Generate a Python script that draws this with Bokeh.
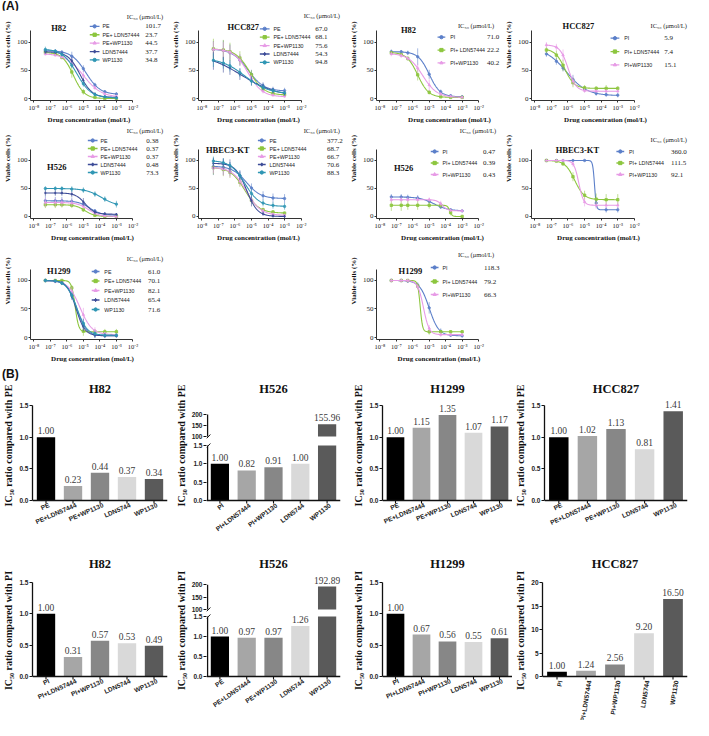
import math
import numpy as np
from bokeh.plotting import figure
from bokeh.models import Range1d, FixedTicker, FactorRange, Spacer, Div
from bokeh.layouts import row, column
from bokeh.core.properties import value
from bokeh.embed import file_html
from bokeh.resources import INLINE

SERIF = "Liberation Serif"
SANS = "Liberation Sans"
EM = "\u2003"

# ---------------- Panel A data ----------------
dose_log = [-7.3, -6.7, -6.3, -5.7, -5.0, -4.3, -3.7, -3.0]   # log10(mol/L)
x_tick_exps = [-8, -7, -6, -5, -4, -3, -2]
pe_labels = ["PE", "PE+ LDN57444", "PE+WP1130", "LDN57444", "WP1130"]
pi_labels = ["PI", "PI+ LDN57444", "PI+WP1130"]
series_colors = ["#5b7fc9", "#8dc63f", "#e79be6", "#3d4c98", "#2f96b4"]
series_markers = ["circle", "square", "triangle", "diamond", "circle"]

# fitted curves: (top, bottom, logIC50, hill)
h82_pe_ic50 = ["101.7", "23.7", "44.5", "37.7", "34.8"]
h82_pe_mean = [[85, 84, 82, 75, 53, 24, 12, 8], [82, 79, 73, 47, 12, 2, 0, 0],
               [79, 77, 74, 63, 41, 19, 8, 4], [83, 82, 79, 67, 32, 8, 3, 2],
               [87, 84, 78, 59, 26, 7, 3, 1]]
h82_pe_err = [[3, 3, 4, 8, 6, 4, 3, 3], [2, 3, 3, 10, 5, 2, 1, 1], [3, 3, 5, 8, 8, 4, 2, 2],
              [4, 3, 3, 6, 5, 3, 2, 2], [5, 3, 3, 5, 5, 3, 2, 2]]
h82_pe_fit = [(85, 7, -4.85, 1.0), (82, 0, -5.6, 1.3), (80, 2, -5.0, 0.8),
              (83, 2, -5.2, 1.2), (88, 1, -5.4, 1.0)]

hcc827_pe_ic50 = ["67.0", "68.1", "75.6", "54.3", "94.8"]
hcc827_pe_mean = [[87, 85, 81, 68, 43, 23, 16, 14], [88, 86, 83, 72, 42, 17, 9, 7],
                  [87, 85, 82, 68, 36, 13, 6, 4], [67, 60, 54, 43, 31, 21, 14, 9],
                  [68, 63, 58, 46, 31, 20, 14, 10]]
hcc827_pe_err = [[15, 18, 15, 10, 8, 6, 5, 5], [18, 18, 16, 12, 8, 5, 4, 4],
                 [14, 15, 12, 10, 6, 4, 3, 3], [16, 14, 12, 10, 8, 6, 5, 4],
                 [12, 10, 10, 8, 8, 5, 4, 4]]
hcc827_pe_fit = [(88, 13, -5.2, 0.9), (88, 6, -5.1, 1.0), (88, 3, -5.2, 1.0),
                 (80, 3, -5.6, 0.4), (72, 8, -5.4, 0.6)]

h82_pi_ic50 = ["71.0", "22.2", "40.2"]
h82_pi_mean = [[83, 83, 81, 74, 43, 12, 5, 3], [81, 78, 71, 42, 11, 3, 2, 2],
               [79, 76, 71, 54, 24, 8, 4, 2]]
h82_pi_err = [[4, 3, 4, 15, 8, 4, 3, 3], [3, 3, 4, 10, 4, 2, 1, 1], [4, 4, 3, 8, 10, 3, 2, 2]]
h82_pi_fit = [(83, 3, -5.0, 1.3), (82, 2, -5.7, 1.3), (80, 2, -5.4, 1.0)]

hcc827_pi_ic50 = ["5.9", "7.4", "15.1"]
hcc827_pi_mean = [[79, 66, 54, 34, 17, 9, 7, 6], [86, 77, 59, 28, 19, 18, 18, 18],
                  [95, 91, 77, 31, 14, 13, 13, 13]]
hcc827_pi_err = [[5, 6, 6, 8, 5, 4, 4, 4], [6, 8, 10, 8, 5, 4, 6, 4], [5, 6, 10, 8, 4, 3, 3, 3]]
hcc827_pi_fit = [(90, 5, -6.1, 0.7), (88, 18, -6.2, 1.5), (95, 13, -6.0, 1.8)]

h526_pe_ic50 = ["0.38", "0.37", "0.37", "0.48", "73.3"]
h526_pe_mean = [[28, 28, 28, 27, 22, 10, 4, 2], [21, 21, 21, 20, 12, 2, 0, 0],
                [25, 25, 25, 24, 18, 6, 1, 0], [42, 42, 42, 40, 26, 8, 5, 4],
                [50, 50, 50, 49, 47, 40, 31, 22]]
h526_pe_err = [[8, 7, 7, 6, 5, 3, 2, 2], [6, 6, 5, 5, 4, 2, 1, 1], [8, 7, 7, 6, 5, 3, 2, 2],
               [6, 5, 5, 6, 7, 4, 2, 2], [4, 4, 4, 5, 5, 5, 5, 6]]
h526_pe_fit = [(28, 2, -4.6, 1.2), (21, 0, -4.9, 1.5), (25, 0, -4.7, 1.3),
               (42, 4, -4.9, 1.5), (50, 18, -3.9, 0.9)]

hbec_pe_ic50 = ["377.2", "68.7", "66.7", "70.6", "88.3"]
hbec_pe_mean = [[89, 88, 85, 73, 51, 37, 33, 32], [87, 84, 79, 61, 29, 12, 8, 6],
                [87, 85, 80, 63, 30, 10, 4, 2], [95, 94, 90, 73, 28, 5, 1, 0],
                [99, 96, 91, 73, 41, 24, 20, 18]]
hbec_pe_err = [[15, 14, 12, 10, 8, 8, 8, 8], [12, 12, 10, 8, 6, 4, 3, 3],
               [10, 12, 10, 8, 6, 4, 3, 3], [10, 10, 12, 8, 10, 4, 3, 3],
               [8, 8, 6, 6, 8, 6, 6, 6]]
hbec_pe_fit = [(90, 32, -5.3, 1.0), (88, 6, -5.4, 1.0), (88, 2, -5.3, 1.0),
               (95, 0, -5.3, 1.3), (100, 18, -5.4, 1.0)]

h526_pi_ic50 = ["0.47", "0.39", "0.43"]
h526_pi_mean = [[35, 35, 34, 33, 27, 17, 12, 10], [20, 20, 20, 20, 20, 20, 7, 0],
                [30, 30, 30, 30, 30, 23, 11, 10]]
h526_pi_err = [[5, 5, 5, 5, 4, 3, 2, 2], [10, 10, 8, 8, 6, 5, 5, 3], [5, 5, 5, 5, 4, 5, 3, 2]]
h526_pi_fit = [(35, 10, -4.7, 1.0), (20, 0, -3.75, 6.0), (30, 10, -4.2, 2.5)]

hbec_pi_ic50 = ["360.0", "111.5", "92.1"]
hbec_pi_mean = [[100, 100, 100, 100, 100, 24, 12, 12], [100, 99, 94, 71, 38, 31, 30, 30],
                [100, 100, 100, 94, 26, 20, 20, 20]]
hbec_pi_err = [[1, 1, 1, 1, 1, 8, 5, 5], [1, 2, 3, 8, 8, 10, 10, 10], [1, 1, 2, 5, 8, 6, 6, 6]]
hbec_pi_fit = [(100, 12, -4.4, 8.0), (100, 30, -5.6, 1.5), (100, 20, -5.35, 3.0)]

h1299_pe_ic50 = ["61.0", "70.1", "82.1", "65.4", "71.6"]
h1299_pe_mean = [[100, 99, 96, 75, 22, 5, 3, 3], [100, 100, 100, 87, 11, 10, 10, 10],
                 [100, 98, 96, 81, 40, 12, 7, 5], [100, 99, 96, 72, 19, 4, 3, 3],
                 [100, 99, 95, 74, 25, 7, 4, 4]]
h1299_pe_err = [[3, 3, 3, 6, 10, 5, 3, 3], [2, 2, 2, 5, 8, 5, 5, 5], [3, 3, 3, 8, 12, 6, 3, 3],
                [2, 2, 3, 6, 8, 5, 4, 3], [3, 3, 3, 6, 8, 5, 3, 3]]
h1299_pe_fit = [(100, 3, -5.4, 1.5), (100, 10, -5.5, 4.0), (100, 5, -5.2, 1.2),
                (100, 3, -5.45, 1.6), (100, 4, -5.4, 1.4)]

h1299_pi_ic50 = ["118.3", "79.2", "66.3"]
h1299_pi_mean = [[100, 100, 99, 92, 52, 11, 4, 3], [100, 100, 100, 90, 10, 10, 10, 10],
                 [100, 100, 100, 89, 16, 5, 5, 5]]
h1299_pi_err = [[3, 3, 3, 5, 10, 5, 3, 3], [2, 2, 2, 5, 5, 3, 3, 3], [3, 3, 3, 5, 6, 4, 3, 3]]
h1299_pi_fit = [(100, 3, -5.0, 1.5), (100, 10, -5.55, 6.0), (100, 5, -5.35, 2.5)]

# ---------------- Panel B data ----------------
b_cats_pe = ["PE", "PE+LDN57444", "PE+WP1130", "LDN5744", "WP1130"]
b_cats_pi = ["PI", "PI+LDN57444", "PI+WP1130", "LDN5744", "WP1130"]
b_h82_pe = [1.00, 0.23, 0.44, 0.37, 0.34]
b_h526_pe = [1.00, 0.82, 0.91, 1.00, 155.96]
b_h1299_pe = [1.00, 1.15, 1.35, 1.07, 1.17]
b_hcc827_pe = [1.00, 1.02, 1.13, 0.81, 1.41]
b_h82_pi = [1.00, 0.31, 0.57, 0.53, 0.49]
b_h526_pi = [1.00, 0.97, 0.97, 1.26, 192.89]
b_h1299_pi = [1.00, 0.67, 0.56, 0.55, 0.61]
b_hcc827_pi = [1.00, 1.24, 2.56, 9.20, 16.50]
bar_colors = ["#000000", "#a6a6a6", "#878787", "#d9d9d9", "#5a5a5a"]


def sup(n):
    m = {"-": "\u207b", "0": "\u2070", "1": "\u00b9", "2": "\u00b2", "3": "\u00b3",
         "4": "\u2074", "5": "\u2075", "6": "\u2076", "7": "\u2077", "8": "\u2078", "9": "\u2079"}
    return "".join(m[c] for c in str(n))


def shifted(text, n):
    # positive n: leading em-spaces, negative: trailing (to move the centred label)
    return EM * n + text if n >= 0 else text + EM * (-n)


def make_dose(width, height, frame_h, y0, y1, title, labels, ic50, means, errs, fits, lay,
              ysh=3, xsh=0):
    lb = 26
    fw = width - lb
    lx0 = -8.2
    ppd = 17.0
    lx1 = lx0 + fw / ppd
    p = figure(width=width, height=height, x_axis_type="log",
               x_range=Range1d(10 ** lx0, 10 ** lx1), y_range=Range1d(y0, y1),
               title=None, output_backend="svg", toolbar_location=None,
               min_border_left=lb, min_border_right=0, min_border_top=0,
               min_border_bottom=height - frame_h)
    p.outline_line_color = None
    p.xgrid.visible = False
    p.ygrid.visible = False
    ppu = frame_h / (y1 - y0)

    def X(px):
        return 10 ** (lx0 + px / ppd)

    def Y(px):
        return y1 - px / ppu

    xs_curve = np.logspace(dose_log[0], dose_log[-1], 160)
    lxs = np.log10(xs_curve)
    dose_x = [10.0 ** d for d in dose_log]
    for i, (m, e, f) in enumerate(zip(means, errs, fits)):
        top, bot, lec, hill = f
        yc = bot + (top - bot) / (1 + 10 ** ((lxs - lec) * hill))
        c = series_colors[i]
        p.line(xs_curve, yc, line_color=c, line_width=1.1)
        p.segment(dose_x, [a - b for a, b in zip(m, e)], dose_x, [a + b for a, b in zip(m, e)],
                  line_color=c, line_width=0.7, line_alpha=0.8)
        p.scatter(dose_x, m, marker=series_markers[i], size=2.4, fill_color=c, line_color=c,
                  fill_alpha=0.8, line_alpha=0.8)

    n = len(labels)
    rows = lay["rows"]
    la, lbx = lay["line"]
    for i in range(n):
        yy = Y(rows[i])
        p.segment([X(la)], [yy], [X(lbx)], [yy], line_color=series_colors[i], line_width=1.3)
        p.scatter([X((la + lbx) / 2)], [yy], marker=series_markers[i], size=3.3,
                  fill_color=series_colors[i], line_color=series_colors[i])
    p.text(x=[X(lay["label"])] * n, y=[Y(r) for r in rows], text=labels,
           text_font=value(SANS), text_font_size="5.3px", text_baseline="middle",
           text_align="left", text_color="#222222")
    p.text(x=[X(lay["val"])] * n, y=[Y(r) for r in rows], text=ic50,
           text_font=value(SERIF), text_font_size="7px", text_baseline="middle",
           text_align="left", text_color="#222222")
    hx, hy = lay["header"]
    p.text(x=[X(hx)], y=[Y(hy)], text=["IC\u2085\u2080 (\u03bcmol/L)"],
           text_font=value(SERIF), text_font_size="6.5px", text_baseline="middle",
           text_align="left", text_color="#222222")
    tx, ty = lay["title"]
    p.text(x=[X(tx)], y=[Y(ty)], text=[title], text_font=value(SERIF), text_font_style="bold",
           text_font_size="8.5px", text_baseline="middle", text_align="center", text_color="#111111")

    xa = p.xaxis[0]
    xa.ticker = FixedTicker(ticks=[10.0 ** e for e in x_tick_exps])
    xa.major_label_overrides = {10.0 ** e: "10" + sup(e) for e in x_tick_exps}
    xa.bounds = (10 ** lx0, 1e-2)
    xa.axis_label = shifted("Drug concentration (mol/L)", xsh)
    ya = p.yaxis[0]
    ya.ticker = FixedTicker(ticks=[0, 50, 100])
    ya.bounds = (y0, 120)
    ya.axis_label = shifted("Viable cells (%)", ysh)
    for ax in (xa, ya):
        ax.axis_line_color = "#333333"
        ax.axis_line_width = 1
        ax.major_tick_line_color = "#333333"
        ax.major_tick_out = 2
        ax.major_tick_in = 0
        ax.minor_tick_line_color = None
        ax.major_label_text_font = SERIF
        ax.major_label_text_font_size = "7px"
        ax.major_label_text_color = "#222222"
        ax.major_label_standoff = 1
        ax.axis_label_text_font = SERIF
        ax.axis_label_text_font_style = "bold"
        ax.axis_label_text_font_size = "7px"
        ax.axis_label_text_color = "#111111"
        ax.axis_label_standoff = 2
    xa.major_label_text_font_size = "6.5px"
    return p


def brk_map(lower_top, gap, up_lo, up_scale):
    def T(v):
        return v if v <= lower_top else round(lower_top + gap + (v - up_lo) * up_scale, 4)
    return T


def make_bar(width, frame_w, height, zero_px, cats, vals, title, ylabel, ppu, ticks, tick_labels,
             title_px, brk=None, ysh=0):
    lb = 30
    y_end = zero_px / ppu
    y_start = -(height - zero_px) / ppu
    p = figure(width=width, height=height,
               x_range=FactorRange(*cats, range_padding=0, factor_padding=0),
               y_range=Range1d(y_start, y_end), title=None, output_backend="svg",
               toolbar_location=None, min_border_left=lb, min_border_right=width - lb - frame_w,
               min_border_top=0, min_border_bottom=0)
    p.outline_line_color = None
    p.xgrid.visible = False
    p.ygrid.visible = False
    p.xaxis.visible = False
    n = len(cats)
    ppx = frame_w / n
    if brk is None:
        tops = list(vals)
        label_y = list(vals)
    else:
        lower_top, T, up_lo, up_hi = brk
        tops = [min(v, lower_top) for v in vals]
        ux = [c for c, v in zip(cats, vals) if v > lower_top]
        uv = [v for v in vals if v > lower_top]
        uc = [col for col, v in zip(bar_colors, vals) if v > lower_top]
        p.vbar(x=ux, bottom=[T(up_lo)] * len(ux), top=[T(v) for v in uv], width=0.68,
               fill_color=uc, line_color=None)
        label_y = [T(v) for v in vals]
    p.vbar(x=cats, top=tops, width=0.68, fill_color=bar_colors, line_color=None)
    p.text(x=cats, y=[v + 3 / ppu for v in label_y], text=["%.2f" % v for v in vals],
           text_font=value(SERIF), text_font_size="9.5px", text_color="#3a3a3a",
           text_align="center", text_baseline="bottom")
    p.text(x=[n / 2], y=[y_end - title_px / ppu], text=[title], text_font=value(SERIF),
           text_font_style="bold", text_font_size="12.5px", text_align="center",
           text_baseline="middle", text_color="#111111")
    # category axis drawn at zero
    centers = [i + 0.5 for i in range(n)]
    p.segment([0], [0], [n], [0], line_color="#111111", line_width=1.3)
    p.segment(centers, [0] * n, centers, [-3 / ppu] * n, line_color="#111111", line_width=1.1)
    ang = math.atan(ppx / ppu)   # 45 degrees on screen
    p.text(x=[c + 3 / ppx for c in centers], y=[-4 / ppu] * n, text=cats, angle=ang,
           text_align="right", text_baseline="middle", text_font=value(SANS),
           text_font_style="bold", text_font_size="6.5px", text_color="#222222")

    ya = p.yaxis[0]
    ya.ticker = FixedTicker(ticks=ticks)
    ya.major_label_overrides = dict(zip(ticks, tick_labels))
    ya.axis_label = shifted(ylabel, ysh)
    ya.axis_line_width = 1.3
    ya.axis_line_color = "#111111"
    ya.major_tick_line_color = "#111111"
    ya.major_tick_line_width = 1.1
    ya.major_tick_out = 3
    ya.major_tick_in = 0
    ya.minor_tick_line_color = None
    ya.major_label_text_font = SANS
    ya.major_label_text_font_style = "bold"
    ya.major_label_text_font_size = "6.5px"
    ya.major_label_text_color = "#222222"
    ya.major_label_standoff = 1
    ya.axis_label_text_font = SERIF
    ya.axis_label_text_font_style = "bold"
    ya.axis_label_text_font_size = "10px"
    ya.axis_label_text_color = "#111111"
    ya.axis_label_standoff = 2
    if brk is None:
        ya.bounds = (0, ticks[-1])
    else:
        ya.axis_line_color = None
        lower_top, T, up_lo, up_hi = brk
        ax_x = 0.04
        p.segment([ax_x, ax_x], [0, T(up_lo)], [ax_x, ax_x], [lower_top, T(up_hi)],
                  line_color="#111111", line_width=1.3)
        # break marks
        dx = 4 / ppx
        dy = 2 / ppu
        p.segment([0.0, 0.0], [lower_top - dy, T(up_lo) - dy], [dx, dx], [lower_top + dy, T(up_lo) + dy],
                  line_color="#111111", line_width=1.0)
    return p


A_W = [168, 178, 155, 192]
R1 = dict(height=116, frame_h=91, y0=-3.5, y1=156.1)
R2 = dict(height=124, frame_h=92, y0=-3.6, y1=160.7)
R3 = dict(height=118, frame_h=89, y0=-3.5, y1=152.6)

f1 = make_dose(A_W[0], title="H82", labels=pe_labels, ic50=h82_pe_ic50, means=h82_pe_mean,
               errs=h82_pe_err, fits=h82_pe_fit, ysh=3, xsh=-3,
               lay=dict(title=(29, 18), header=(99, 6), rows=[16, 24.5, 33, 41.5, 50],
                        line=(61, 71), label=74, val=118), **R1)
f2 = make_dose(A_W[1], title="HCC827", labels=pe_labels, ic50=hcc827_pe_ic50, means=hcc827_pe_mean,
               errs=hcc827_pe_err, fits=hcc827_pe_fit, ysh=3, xsh=-4,
               lay=dict(title=(46, 17), header=(108, 5), rows=[18.5, 27, 35.5, 44, 52.5],
                        line=(63, 73), label=77, val=120), **R1)
f3 = make_dose(A_W[2], title="H82", labels=pi_labels, ic50=h82_pi_ic50, means=h82_pi_mean,
               errs=h82_pi_err, fits=h82_pi_fit, ysh=3, xsh=3,
               lay=dict(title=(33, 20), header=(84, 15), rows=[27, 40, 53],
                        line=(63, 71), label=76, val=114), **R1)
f4 = make_dose(A_W[3], title="HCC827", labels=pi_labels, ic50=hcc827_pi_ic50, means=hcc827_pi_mean,
               errs=hcc827_pi_err, fits=hcc827_pi_fit, ysh=3, xsh=-2,
               lay=dict(title=(48, 16), header=(122, 15), rows=[28, 41.5, 55],
                        line=(81, 90), label=95, val=136), **R1)
f5 = make_dose(A_W[0], title="H526", labels=pe_labels, ic50=h526_pe_ic50, means=h526_pe_mean,
               errs=h526_pe_err, fits=h526_pe_fit, ysh=4, xsh=-2,
               lay=dict(title=(27, 40), header=(99, 4), rows=[14, 22, 30, 38, 46],
                        line=(59, 69), label=72, val=119), **R2)
f6 = make_dose(A_W[1], title="HBEC3-KT", labels=pe_labels, ic50=hbec_pe_ic50, means=hbec_pe_mean,
               errs=hbec_pe_err, fits=hbec_pe_fit, ysh=4, xsh=-4,
               lay=dict(title=(30, 23), header=(108, 4), rows=[14, 22, 30, 38, 46],
                        line=(61, 69), label=73, val=132), **R2)
f7 = make_dose(A_W[2], title="H526", labels=pi_labels, ic50=h526_pi_ic50, means=h526_pi_mean,
               errs=h526_pi_err, fits=h526_pi_fit, ysh=4, xsh=1,
               lay=dict(title=(28, 41), header=(86, 4), rows=[25, 36.5, 48],
                        line=(56, 64), label=68, val=110), **R2)
f8 = make_dose(A_W[3], title="HBEC3-KT", labels=pi_labels, ic50=hbec_pi_ic50, means=hbec_pi_mean,
               errs=hbec_pi_err, fits=hbec_pi_fit, ysh=4, xsh=-4,
               lay=dict(title=(47, 23), header=(122, 13), rows=[25, 36.5, 48],
                        line=(87, 95), label=100, val=143), **R2)
f9 = make_dose(A_W[0], title="H1299", labels=pe_labels, ic50=h1299_pe_ic50, means=h1299_pe_mean,
               errs=h1299_pe_err, fits=h1299_pe_fit, ysh=4, xsh=-2,
               lay=dict(title=(29, 20), header=(99, 8), rows=[21, 30.5, 40, 49.5, 59],
                        line=(63, 71), label=76, val=121), **R3)
f10 = make_dose(A_W[2], title="H1299", labels=pi_labels, ic50=h1299_pi_ic50, means=h1299_pi_mean,
                errs=h1299_pi_err, fits=h1299_pi_fit, ysh=4, xsh=0,
                lay=dict(title=(35, 20), header=(84, 4), rows=[17, 31, 44],
                         line=(56, 64), label=68, val=111), **R3)

B_W = [172, 178, 162, 181]
B_FW = [137, 138, 132, 145]
lin_ticks = [0, 0.5, 1, 1.5]
lin_labels = ["0.0", "0.5", "1.0", "1.5"]
YL_PE = "IC\u2085\u2080 ratio compared with PE"
YL_PI = "IC\u2085\u2080 ratio compared with PI"

PPU1 = 95 / 1.5
T1 = brk_map(1.5, 0.245, 100, 0.0060)
PPU1B = 55 / 1.5
PPU2 = 94 / 1.5
T2 = brk_map(1.5, 0.175, 100, 0.00617)
PPU2B = 40.0
RB1 = dict(height=160, zero_px=120)
RB2 = dict(height=180, zero_px=136)

brk_ticks1 = [0, 0.5, 1, 1.5, T1(100), T1(150), T1(200)]
brk_ticks2 = [0, 0.5, 1, 1.5, T2(100), T2(150), T2(200)]
brk_labels = ["0.0", "0.5", "1.0", "1.5", "100", "150", "200"]

b1 = make_bar(B_W[0], B_FW[0], cats=b_cats_pe, vals=b_h82_pe, title="H82", ylabel=YL_PE, ppu=PPU1,
              ticks=lin_ticks, tick_labels=lin_labels, title_px=8, ysh=3, **RB1)
b2 = make_bar(B_W[1], B_FW[1], cats=b_cats_pi, vals=b_h526_pe, title="H526", ylabel=YL_PE, ppu=PPU1B,
              ticks=brk_ticks1, tick_labels=brk_labels, title_px=8, brk=(1.5, T1, 100, 200), ysh=3,
              **RB1)
b3 = make_bar(B_W[2], B_FW[2], cats=b_cats_pe, vals=b_h1299_pe, title="H1299", ylabel=YL_PE, ppu=PPU1,
              ticks=lin_ticks, tick_labels=lin_labels, title_px=8, ysh=3, **RB1)
b4 = make_bar(B_W[3], B_FW[3], cats=b_cats_pe, vals=b_hcc827_pe, title="HCC827", ylabel=YL_PE,
              ppu=PPU1, ticks=lin_ticks, tick_labels=lin_labels, title_px=8, ysh=3, **RB1)
b5 = make_bar(B_W[0], B_FW[0], cats=b_cats_pi, vals=b_h82_pi, title="H82", ylabel=YL_PI, ppu=PPU2,
              ticks=lin_ticks, tick_labels=lin_labels, title_px=23, **RB2)
b6 = make_bar(B_W[1], B_FW[1], cats=b_cats_pe, vals=b_h526_pi, title="H526", ylabel=YL_PI, ppu=PPU2B,
              ticks=brk_ticks2, tick_labels=brk_labels, title_px=23, brk=(1.5, T2, 100, 200), **RB2)
b7 = make_bar(B_W[2], B_FW[2], cats=b_cats_pi, vals=b_h1299_pi, title="H1299", ylabel=YL_PI, ppu=PPU2,
              ticks=lin_ticks, tick_labels=lin_labels, title_px=23, **RB2)
b8 = make_bar(B_W[3], B_FW[3], cats=b_cats_pi, vals=b_hcc827_pi, title="HCC827", ylabel=YL_PI,
              ppu=94 / 20, ticks=[0, 5, 10, 15, 20], tick_labels=["0", "5", "10", "15", "20"],
              title_px=23, **RB2)

tag_style = {"font-family": SANS, "font-weight": "bold", "font-size": "12px",
             "line-height": "12px", "color": "#111111", "padding-left": "2px"}
div_a = Div(text="(A)", width=693, height=10, margin=(0, 0, 0, 0), styles=tag_style)
div_b = Div(text="(B)", width=693, height=12, margin=(0, 0, 0, 0), styles=tag_style)

layout = column(
    div_a,
    row(f1, f2, f3, f4),
    row(f5, f6, f7, f8),
    row(f9, Spacer(width=A_W[1], height=R3["height"]), f10, Spacer(width=A_W[3], height=R3["height"])),
    div_b,
    row(b1, b2, b3, b4),
    row(b5, b6, b7, b8),
)

open("out.html", "w").write(file_html(layout, INLINE))
